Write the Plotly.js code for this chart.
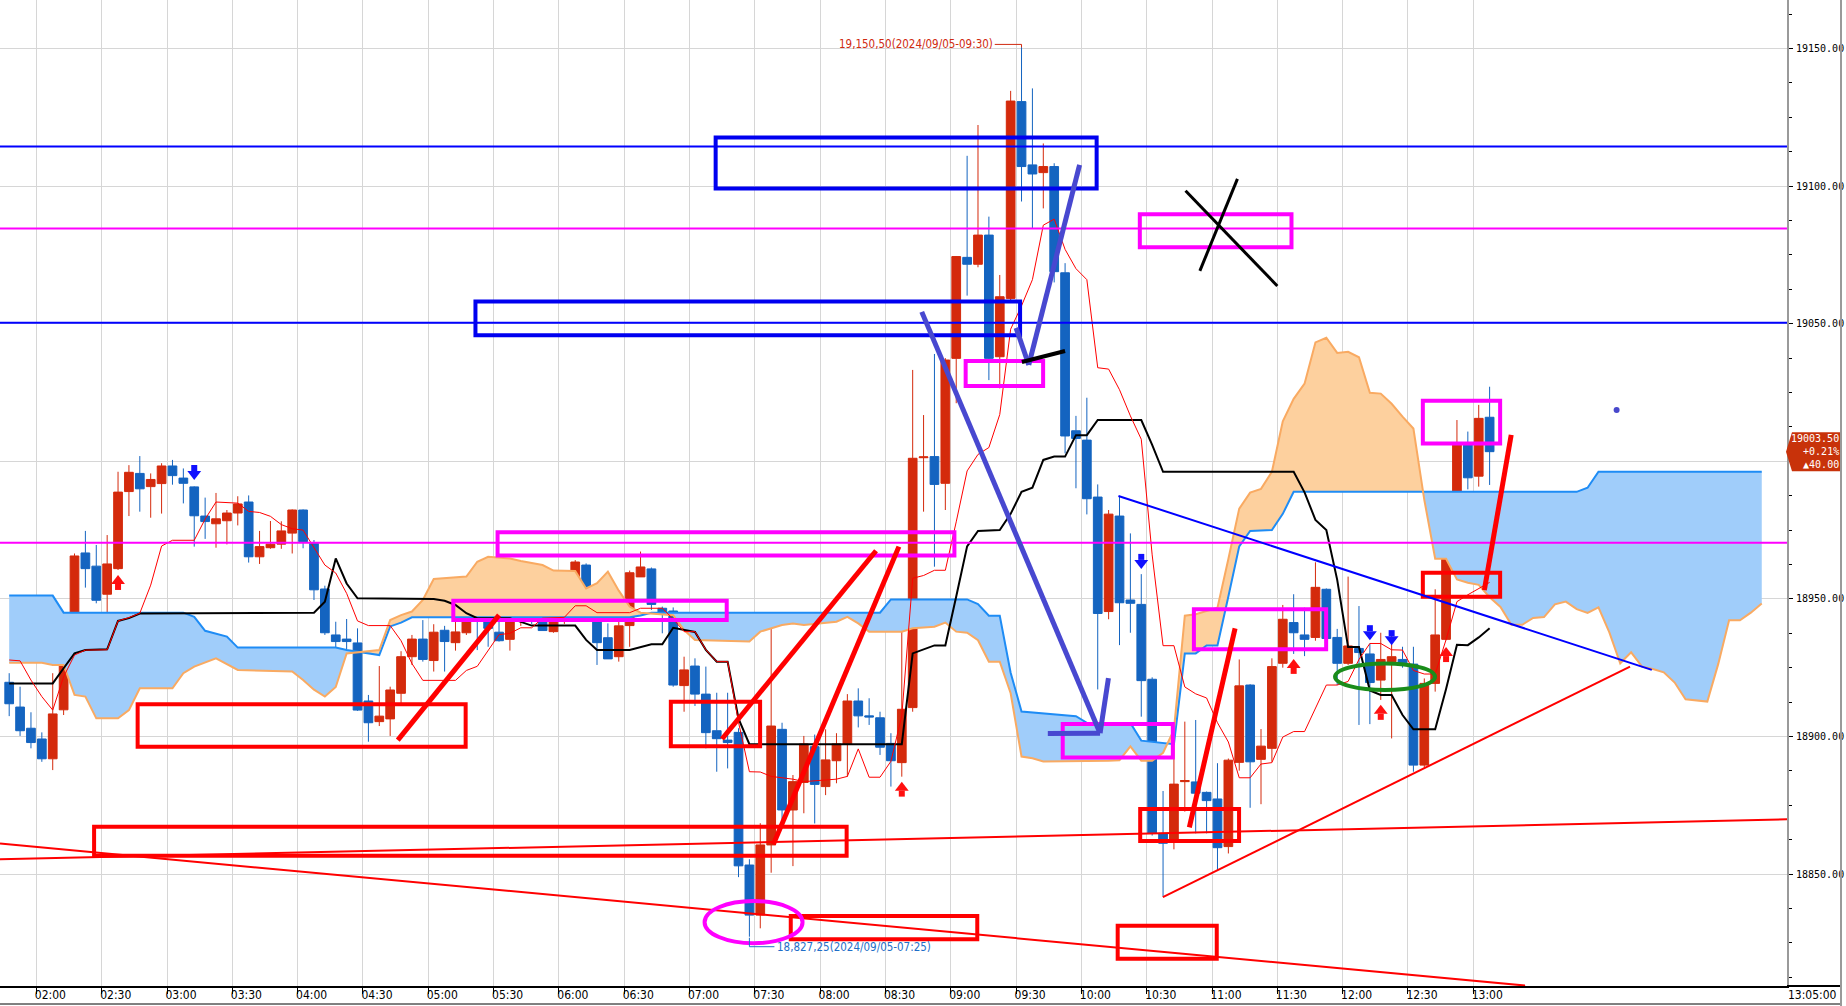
<!DOCTYPE html>
<html><head><meta charset="utf-8">
<script src="https://cdn.plot.ly/plotly-3.0.1.min.js"></script>
<style>html,body{margin:0;padding:0;background:#fff;overflow:hidden}#chart{width:1846px;height:1006px}</style>
</head><body><div id="chart"></div>
<script>
// ---------------- DATA ----------------
const times = ['01:45','01:50','01:55',
'02:00','02:05','02:10','02:15','02:20','02:25','02:30','02:35','02:40','02:45','02:50','02:55',
'03:00','03:05','03:10','03:15','03:20','03:25','03:30','03:35','03:40','03:45','03:50','03:55',
'04:00','04:05','04:10','04:15','04:20','04:25','04:30','04:35','04:40','04:45','04:50','04:55',
'05:00','05:05','05:10','05:15','05:20','05:25','05:30','05:35','05:40','05:45','05:50','05:55',
'06:00','06:05','06:10','06:15','06:20','06:25','06:30','06:35','06:40','06:45','06:50','06:55',
'07:00','07:05','07:10','07:15','07:20','07:25','07:30','07:35','07:40','07:45','07:50','07:55',
'08:00','08:05','08:10','08:15','08:20','08:25','08:30','08:35','08:40','08:45','08:50','08:55',
'09:00','09:05','09:10','09:15','09:20','09:25','09:30','09:35','09:40','09:45','09:50','09:55',
'10:00','10:05','10:10','10:15','10:20','10:25','10:30','10:35','10:40','10:45','10:50','10:55',
'11:00','11:05','11:10','11:15','11:20','11:25','11:30','11:35','11:40','11:45','11:50','11:55',
'12:00','12:05','12:10','12:15','12:20','12:25','12:30','12:35','12:40','12:45','12:50','12:55',
'13:00','13:05'];
const open = [18919.7,18910.7,18903.0,
18899.1,18891.9,18909.7,18936.9,18966.7,18961.9,18951.7,18961.0,18989.0,18995.6,18990.8,18991.9,
18998.3,18993.9,18990.7,18980.1,18977.3,18978.4,18981.2,18985.2,18965.3,18968.6,18969.9,18973.9,
18982.3,18970.2,18953.6,18936.9,18935.4,18934.0,18912.9,18905.4,18906.4,18915.7,18929.0,18935.4,
18927.6,18938.6,18934.1,18937.7,18943.5,18942.3,18937.9,18935.3,18943.3,18948.1,18948.1,18938.1,
18942.9,18946.0,18962.3,18953.2,18935.9,18929.0,18940.3,18958.0,18960.9,18946.6,18945.6,18918.5,
18925.6,18915.4,18902.1,18898.7,18901.5,18853.3,18835.1,18860.6,18902.6,18873.3,18883.3,18896.3,
18881.8,18891.2,18897.3,18912.9,18907.5,18906.8,18897.5,18890.5,18910.5,19001.3,19001.7,18992.0,
19037.4,19074.1,19071.6,19082.2,19038.0,19059.2,19130.7,19107.7,19104.9,19107.1,19068.5,19011.1,
19007.7,18987.0,18945.4,18980.1,18949.6,18948.0,18920.8,18864.8,18862.4,18883.6,18883.5,18879.7,
18877.3,18860.0,18890.6,18918.7,18891.7,18895.7,18926.6,18941.4,18936.9,18936.0,18953.5,18936.0,
18926.6,18932.0,18930.0,18920.5,18927.2,18928.0,18926.3,18889.6,18919.3,18935.3,18980.5,19005.9,
18994.6,19016.0];
const high = [18923.0,18918.1,18908.8,
18901.5,18923.0,18940.9,18966.5,18974.7,18969.6,18973.2,18996.2,18998.6,19001.9,18995.6,18999.3,
19000.5,18997.4,18990.9,18986.8,18988.5,18982.3,18987.3,18987.6,18974.7,18978.3,18978.2,18982.5,
18982.5,18971.4,18954.8,18941.7,18942.7,18939.3,18915.1,18925.6,18918.1,18931.0,18936.9,18942.3,
18940.8,18940.2,18948.0,18950.8,18944.8,18944.5,18946.6,18946.9,18955.4,18955.4,18954.2,18945.0,
18951.4,18964.1,18962.9,18954.2,18941.1,18944.8,18960.3,18967.2,18961.4,18947.2,18946.9,18929.0,
18928.4,18925.4,18915.9,18915.9,18903.0,18855.4,18868.5,18940.8,18905.0,18886.0,18900.2,18900.7,
18902.6,18901.2,18915.4,18917.5,18913.9,18909.0,18901.2,18946.6,19033.2,19016.8,19039.0,19037.5,
19074.6,19111.0,19122.2,19088.9,19067.7,19134.6,19150.5,19135.5,19115.5,19108.3,19072.0,19016.5,
19023.1,18991.6,18982.3,18987.1,18973.8,18959.0,18921.5,18880.2,18897.0,18905.4,18906.0,18880.0,
18890.3,18892.0,18928.0,18919.0,18902.7,18928.4,18947.8,18951.7,18946.8,18963.3,18953.8,18939.1,
18958.1,18947.4,18933.8,18937.7,18937.7,18932.6,18932.6,18921.1,18953.5,18983.1,19015.0,19010.8,
19020.5,19027.1];
const low = [18907.4,18900.2,18895.7,
18890.8,18887.8,18907.8,18936.0,18954.1,18948.4,18940.9,18960.5,18980.1,18981.7,18979.5,18981.0,
18991.5,18984.7,18969.0,18971.8,18968.6,18969.8,18976.7,18963.2,18962.7,18968.2,18968.2,18966.5,
18968.4,18949.6,18936.9,18931.1,18930.7,18909.3,18898.1,18903.8,18900.2,18912.0,18926.0,18927.2,
18923.6,18923.6,18931.2,18936.9,18931.4,18932.6,18934.5,18931.2,18940.2,18940.9,18938.5,18937.7,
18940.9,18944.2,18950.8,18926.0,18928.2,18927.2,18932.6,18958.0,18946.0,18937.5,18918.1,18909.0,
18911.1,18895.7,18887.2,18888.4,18848.9,18827.25,18830.3,18850.5,18868.0,18852.9,18872.1,18868.4,
18878.7,18883.0,18885.4,18903.3,18904.2,18893.3,18881.8,18885.4,18909.0,18981.7,18961.7,18982.3,
19021.1,19060.2,19070.5,19029.5,19026.5,19058.0,19094.4,19084.6,19091.9,19065.0,19002.9,18990.2,
18980.7,18917.1,18942.6,18933.2,18937.7,18907.2,18864.0,18841.8,18859.0,18872.7,18864.8,18864.8,
18851.5,18857.5,18887.6,18874.1,18875.4,18890.8,18925.0,18930.0,18929.2,18934.8,18934.8,18918.7,
18926.0,18904.2,18904.5,18913.3,18899.3,18925.0,18887.2,18888.8,18916.3,18935.0,18977.2,18989.8,
18990.8,18991.4];
const close = [18911.9,18902.1,18897.8,
18891.9,18908.2,18936.9,18965.6,18961.0,18949.5,18962.7,18988.8,18996.0,18990.0,18993.4,18998.3,
18994.8,18992.0,18980.2,18978.1,18979.1,18981.2,18984.5,18965.3,18969.0,18969.9,18974.7,18982.3,
18970.8,18953.3,18937.7,18934.5,18934.5,18909.6,18905.0,18907.4,18916.9,18929.0,18935.4,18928.0,
18937.9,18934.5,18938.0,18944.2,18942.3,18939.3,18934.8,18942.1,18948.0,18947.7,18938.5,18942.1,
18947.7,18963.4,18953.2,18934.1,18928.2,18940.2,18959.5,18961.6,18948.0,18944.8,18918.7,18924.2,
18915.4,18901.4,18899.2,18897.8,18853.0,18835.1,18860.6,18903.8,18873.3,18883.6,18897.3,18882.6,
18891.5,18897.3,18912.9,18907.5,18907.1,18896.1,18891.2,18909.9,19001.1,19001.6,18991.6,19036.8,
19074.4,19071.6,19082.2,19037.4,19059.8,19130.9,19107.1,19104.4,19107.1,19068.9,19009.2,19008.3,
18986.4,18944.7,18980.8,18948.6,18948.4,18920.3,18864.8,18861.2,18882.7,18884.0,18879.4,18876.7,
18859.6,18891.4,18918.4,18890.8,18896.5,18925.4,18942.6,18937.7,18935.3,18954.2,18935.6,18926.6,
18932.9,18930.5,18919.6,18928.0,18929.0,18926.8,18889.6,18919.3,18936.9,18981.9,19005.9,18994.0,
19015.6,19003.5];

// Ichimoku lines (vertices)
const tenkanTimes = ['01:45','01:50','01:55','02:00','02:05','02:10','02:15','02:20','02:30','02:35','02:40','02:45','02:50','02:55','03:00','03:10','03:15','03:20','03:30','03:35','03:40','03:45','03:50','03:55','04:00','04:05','04:10','04:15','04:20','04:25','04:30','04:40','04:45','04:50','04:55','05:10','05:15','05:20','05:25','05:30','05:35','05:40','05:45','05:50','06:00','06:05','06:10','06:15','06:30','06:35','06:45','06:50','06:55','07:00','07:05','07:10','07:15','07:20','07:25','07:30','07:35','07:45','07:50','08:05','08:10','08:15','08:20','08:25','08:30','08:35','08:40','08:45','08:50','08:55','09:00','09:05','09:10','09:15','09:20','09:25','09:30','09:35','09:40','09:45','09:50','09:55','10:00','10:05','10:10','10:15','10:20','10:25','10:30','10:35','10:40','10:45','10:50','10:55','11:00','11:05','11:10','11:15','11:20','11:25','11:30','11:35','11:40','11:45','11:50','11:55','12:00','12:05','12:10','12:15','12:20','12:25','12:30','12:35','12:40','12:45','12:50','12:55','13:00','13:05'];
const tenkanValues = [18927.8,18927.5,18920.5,18914.5,18909.6,18921.7,18929.6,18931.4,18931.5,18942.0,18943.2,18944.8,18955.0,18969.2,18971.3,18971.3,18979.0,18985.2,18984.8,18981.8,18981.4,18980.0,18977.0,18975.5,18975.0,18968.6,18962.3,18959.4,18952.0,18942.0,18940.3,18940.3,18934.8,18926.5,18920.4,18920.4,18924.0,18925.5,18931.4,18937.0,18937.5,18939.5,18939.5,18943.0,18943.3,18947.5,18947.5,18945.0,18945.0,18946.6,18946.6,18942.7,18938.1,18938.1,18931.5,18927.2,18927.2,18905.2,18887.2,18887.1,18885.5,18884.5,18883.6,18884.5,18885.5,18895.5,18885.2,18885.2,18891.0,18907.5,18957.5,18958.5,18960.4,18960.4,18978.0,18996.5,19002.5,19005.0,19017.0,19048.0,19056.5,19066.0,19085.8,19088.0,19077.0,19070.0,19066.0,19034.0,19033.5,19026.0,19016.5,19008.0,18966.0,18933.0,18933.0,18918.0,18915.5,18914.0,18905.0,18898.0,18885.0,18885.0,18890.0,18890.5,18899.8,18901.8,18901.8,18910.5,18918.7,18918.7,18920.0,18928.0,18933.8,18933.8,18931.5,18931.4,18924.0,18922.7,18922.7,18935.2,18949.0,18951.5,18953.9,18956.0];

const kijunTimes = ['01:45','02:05','02:10','02:15','02:20','02:30','02:35','02:40','02:45','04:05','04:10','04:15','04:20','04:25','05:00','05:05','05:10','05:15','05:20','05:35','05:45','06:05','06:10','06:15','06:30','06:40','06:45','06:50','07:00','07:05','07:10','07:15','07:20','07:25','08:35','08:40','08:50','08:55','09:00','09:05','09:10','09:20','09:25','09:30','09:35','09:40','09:45','09:50','09:55','10:00','10:05','10:25','10:30','10:35','11:35','11:40','11:45','11:50','11:55','12:00','12:05','12:10','12:15','12:20','12:25','12:30','12:40','12:45','12:50','12:55','13:00','13:05'];
const kijunValues = [18919.3,18919.3,18924.8,18930.2,18931.4,18931.7,18942.0,18943.0,18944.7,18945.0,18949.0,18964.7,18955.6,18950.2,18950.0,18949.3,18947.8,18944.8,18943.0,18943.0,18940.3,18940.3,18935.1,18931.4,18931.4,18933.5,18933.5,18939.5,18938.0,18931.5,18927.2,18927.2,18906.5,18897.2,18897.2,18930.2,18933.1,18933.1,18950.9,18969.1,18974.7,18975.0,18980.9,18988.9,18990.4,19000.5,19001.7,19001.7,19009.5,19009.5,19015.0,19015.0,19006.0,18996.2,18996.2,18988.7,18978.7,18975.0,18956.9,18932.5,18932.5,18916.7,18915.1,18915.1,18907.8,18902.6,18902.6,18917.3,18933.3,18933.2,18936.0,18939.3];

// Senkou span A (orange) and span B (blue), displayed 25 bars ahead
const spanATimes = ['01:45','02:00','02:05','02:10','02:15','02:20','02:25','02:35','02:40','02:45','03:00','03:05','03:10','03:20','03:30','03:55','04:00','04:05','04:10','04:15','04:20','04:35','04:40','04:45','04:50','04:55','05:00','05:15','05:20','05:25','05:35','05:40','05:50','05:55','06:05','06:10','06:15','06:20','06:25','06:30','06:35','06:50','06:55','07:00','07:25','07:30','07:40','07:45','07:50','08:05','08:10','08:15','08:20','08:35','08:40','08:50','08:55','09:00','09:05','09:10','09:15','09:20','09:25','09:30','09:35','09:40','10:10','10:15','10:20','10:25','10:30','10:35','10:40','10:45','10:50','11:00','11:05','11:10','11:15','11:20','11:25','11:30','11:35','11:40','11:45','11:50','11:55','12:00','12:05','12:10','12:15','12:20','12:25','12:30','12:35','12:40','12:45','12:50','12:55','13:00','13:05','13:10','13:15','13:20','13:25','13:30','13:35','13:40','13:45','13:50','13:55','14:00','14:05','14:10','14:15','14:20','14:25','14:30','14:35','14:45','14:50','14:55','15:00','15:05','15:10'];
const spanAValues = [18926.8,18926.8,18926.0,18926.0,18915.1,18914.5,18906.6,18906.6,18909.6,18917.5,18917.5,18923.0,18925.4,18928.4,18924.2,18923.6,18920.5,18917.0,18914.5,18918.0,18930.2,18931.4,18942.3,18944.1,18945.4,18949.6,18957.2,18958.1,18963.5,18965.3,18964.7,18963.8,18962.3,18960.3,18960.1,18953.8,18955.7,18959.9,18953.0,18947.2,18945.0,18944.1,18938.7,18935.1,18934.5,18938.1,18940.5,18941.1,18940.5,18941.7,18943.5,18941.1,18938.1,18938.1,18939.3,18939.9,18941.4,18938.1,18937.7,18935.0,18927.2,18927.2,18915.7,18892.7,18892.1,18890.9,18891.2,18891.4,18896.4,18891.2,18891.2,18894.1,18902.4,18943.9,18944.4,18946.8,18964.5,18982.8,18988.6,18990.0,18996.2,19014.5,19022.7,19028.2,19043.2,19044.9,19039.4,19039.8,19037.8,19024.9,19024.6,19020.9,19016.2,19011.9,18986.0,18964.6,18964.6,18957.1,18955.9,18955.1,18950.6,18947.1,18940.6,18940.6,18943.1,18943.4,18948.0,18949.0,18946.3,18944.9,18946.9,18937.8,18926.6,18930.6,18925.4,18924.5,18923.3,18919.6,18913.5,18912.7,18926.3,18942.2,18942.2,18945.0,18948.3];
const spanBTimes = ['01:45','02:05','02:10','03:05','03:10','03:15','03:25','03:30','04:15','04:20','04:35','04:40','04:45','04:50','06:30','06:35','06:40','08:25','08:30','09:05','09:10','09:15','09:20','09:25','09:30','09:55','10:00','10:20','10:25','10:40','10:45','10:50','10:55','11:00','11:05','11:10','11:15','11:25','11:30','11:35','13:45','13:50','13:55','15:10'];
const spanBValues = [18951.2,18951.2,18945.0,18945.0,18943.5,18938.4,18936.3,18932.3,18932.3,18931.4,18929.6,18940.0,18941.4,18943.3,18943.3,18944.0,18945.0,18945.0,18949.8,18949.8,18948.1,18943.9,18943.9,18923.2,18909.1,18907.4,18905.0,18904.9,18898.5,18897.2,18930.2,18930.2,18933.1,18933.1,18950.9,18969.1,18974.7,18975.0,18980.9,18988.9,18988.9,18990.4,18996.2,18996.2];

// Signal arrows (bar time, tip price)
const buyArrowTimes = ['02:35','08:35','11:35','12:15','12:45'];
const buyArrowPrices = [18958.7,18883.6,18928.2,18911.5,18932.5];
const sellArrowTimes = ['03:10','10:25','12:10','12:20'];
const sellArrowPrices = [18993.2,18960.9,18935.0,18933.2];

const xTickLabels = ['02:00','02:30','03:00','03:30','04:00','04:30','05:00','05:30','06:00','06:30','07:00','07:30','08:00','08:30','09:00','09:30','10:00','10:30','11:00','11:30','12:00','12:30','13:00'];
const priceTicks = [18850,18900,18950,19000,19050,19100,19150];
const hiddenPriceLabel = 19000; // covered by the last-price tag

const lastPrice = 19003.50, changePct = '+0.21%', changeAbs = '▲40.00', lastTimeLabel = '13:05:00';
const highLabel = '19,150,50(2024/09/05-09:30)', highTime = '09:30', highPrice = 19150.5;
const lowLabel = '18,827,25(2024/09/05-07:25)', lowTime = '07:25', lowPrice = 18827.25;

// ---- user drawings (time, price) ----
const levelBlue = [19114.4, 19050.3];
const levelMagenta = [19084.6, 18970.4];
const blueBoxes = [['07:12:00','10:07:00',19117.7,19099.1],['05:21:40','09:31:50',19058.1,19045.8]];
const magentaBoxes = [['10:26:50','11:36:30',19089.8,19077.8],['09:06:50','09:42:25',19036.4,19027.4],['05:31:50','09:01:40',18974.2,18965.8],['05:11:30','07:17:05',18949.3,18942.3],['10:51:40','11:52:25',18946.2,18931.7],['12:36:50','13:12:20',19022.0,19006.5],['09:51:25','10:42:00',18904.5,18892.4]];
const redBoxes = [['02:46:30','05:17:10',18911.7,18896.3],['06:51:25','07:32:25',18912.6,18896.5],['02:26:30','08:12:10',18867.2,18856.7],['10:27:00','11:12:25',18873.7,18862.0],['12:36:50','13:12:20',18959.5,18950.8],['07:46:30','09:12:10',18834.8,18826.3],['10:16:40','11:02:10',18831.2,18819.2]];
const redThick = [['04:46:00',18898.7,'05:32:30',18944.1],['07:14:55',18899.1,'08:25:40',18967.5],['07:38:30',18860.8,'08:36:10',18969.0],['10:49:35',18867.0,'11:10:35',18939.3],['13:05:05',18953.2,'13:17:25',19009.6]];
const redThin = [['10:37:25',18841.6,'14:12:00',18925.4],['01:43:17',18855.4,'15:24:06',18869.9],['01:43:17',18861.1,'13:23:50',18809.5]];
const blueThin = [['10:17:00',18987.4,'14:22:00',18924.2]];
const purple = [['08:46:40',19054.3,'10:08:35',18901.2],['10:08:35',18901.2,'10:12:25',18921.2],['09:44:35',18901.1,'10:08:35',18901.2],['09:30:00',19048.5,'09:35:50',19035.0],['09:35:50',19035.0,'09:59:10',19107.7]];
const blackLines = [['09:32:40',19036.1,'09:52:30',19040.1],['10:47:50',19098.3,'11:30:00',19063.7],['11:11:40',19102.6,'10:54:25',19069.2]];
const magentaEllipse = ['07:06:55','07:51:55',18840.2,18824.9];
const greenEllipse = ['11:56:30','12:42:25',18926.5,18916.9];
const dotPoint = ['14:05:50',19018.6];

// ---------------- HELPERS ----------------
const RED='#d42a0c', BLUE='#1464c0';
const X0=103.28, X1=924.1, Y0=18809.34, Y1=19167.62;
const PLOT_W=1787, PLOT_H=986;
const PPX=(Y1-Y0)/PLOT_H;
const NARROW="'Liberation Sans Narrow','DejaVu Sans Condensed','Arial Narrow','Liberation Sans',sans-serif";
const MONO="'DejaVu Sans Mono','Liberation Mono',monospace";
function pad2(n){return String(n).padStart(2,'0');}
function toMin(s){const p=s.split(':').map(Number);return p[0]*60+p[1]+(p[2]||0)/60;}
function md(m){const ms=Math.round(m*60000);const h=Math.floor(ms/3600000);const mi=Math.floor((ms%3600000)/60000);const sec=(ms%60000)/1000;return '2024-09-05 '+pad2(h)+':'+pad2(mi)+':'+sec.toFixed(3).padStart(6,'0');}
const barX=t=>md(toMin(t)+2.5);
const tX=t=>md(toMin(t));

const traces=[];
// cloud fills
(function(){
  const aT=spanATimes.map(toMin), bT=spanBTimes.map(toMin);
  function lerp(ts,vs,t){ if(t<=ts[0])return vs[0]; for(let i=1;i<ts.length;i++){ if(t<=ts[i]){const f=(t-ts[i-1])/(ts[i]-ts[i-1]);return vs[i-1]+f*(vs[i]-vs[i-1]);} } return vs[vs.length-1]; }
  const U=[...new Set(aT.concat(bT))].sort((p,q)=>p-q);
  const pts=[];
  U.forEach(t=>{const a=lerp(aT,spanAValues,t), b=lerp(bT,spanBValues,t);
    if(pts.length){const p=pts[pts.length-1];const d0=p.b-p.a,d1=b-a; if(d0*d1<0){const f=d0/(d0-d1);const v=p.a+f*(a-p.a);pts.push({t:p.t+f*(t-p.t),a:v,b:v});}}
    pts.push({t,a,b});});
  const runs=[];let run=null;
  for(let i=1;i<pts.length;i++){const p=pts[i-1],q=pts[i];const s=((p.b-p.a)+(q.b-q.a))>=0?1:-1;
    if(!run||run.s!==s){run={s,pts:[p]};runs.push(run);} run.pts.push(q);}
  runs.forEach(r=>{const xs=r.pts.map(p=>md(p.t+2.5));const up=r.pts.map(p=>Math.max(p.a,p.b));const lo=r.pts.map(p=>Math.min(p.a,p.b));
    traces.push({type:'scatter',mode:'lines',x:xs.concat(xs.slice().reverse()),y:up.concat(lo.slice().reverse()),fill:'toself',fillcolor:r.s>0?'#a0cdfa':'#fdd09e',line:{width:0,color:'rgba(0,0,0,0)'},hoverinfo:'skip',showlegend:false});});
})();
traces.push({type:'scatter',mode:'lines',x:spanBTimes.map(barX),y:spanBValues,line:{color:'#1e8cf5',width:2},hoverinfo:'skip',showlegend:false});
traces.push({type:'scatter',mode:'lines',x:spanATimes.map(barX),y:spanAValues,line:{color:'#f9aa62',width:2},hoverinfo:'skip',showlegend:false});
traces.push({type:'scatter',mode:'lines',x:kijunTimes.map(barX),y:kijunValues,line:{color:'#000',width:2},hoverinfo:'skip',showlegend:false});
traces.push({type:'scatter',mode:'lines',x:tenkanTimes.map(barX),y:tenkanValues,line:{color:'#ff0000',width:1},hoverinfo:'skip',showlegend:false});
traces.push({type:'candlestick',x:times.map(barX),open:open,high:high,low:low,close:close,
  increasing:{line:{color:RED,width:1},fillcolor:RED},decreasing:{line:{color:BLUE,width:1},fillcolor:BLUE},
  whiskerwidth:0,hoverinfo:'skip',showlegend:false});
// arrows
traces.push({type:'scatter',mode:'markers',x:buyArrowTimes.map(barX),y:buyArrowPrices.map(p=>p-6*PPX),marker:{symbol:'triangle-up',size:12,color:'#ff1010',line:{width:0}},hoverinfo:'skip',showlegend:false});
traces.push({type:'scatter',mode:'markers',x:buyArrowTimes.map(barX),y:buyArrowPrices.map(p=>p-12*PPX),marker:{symbol:'square',size:6,color:'#ff1010',line:{width:0}},hoverinfo:'skip',showlegend:false});
traces.push({type:'scatter',mode:'markers',x:sellArrowTimes.map(barX),y:sellArrowPrices.map(p=>p+6*PPX),marker:{symbol:'triangle-down',size:12,color:'#1010ff',line:{width:0}},hoverinfo:'skip',showlegend:false});
traces.push({type:'scatter',mode:'markers',x:sellArrowTimes.map(barX),y:sellArrowPrices.map(p=>p+12*PPX),marker:{symbol:'square',size:6,color:'#1010ff',line:{width:0}},hoverinfo:'skip',showlegend:false});
traces.push({type:'scatter',mode:'markers',x:[tX(dotPoint[0])],y:[dotPoint[1]],marker:{symbol:'circle',size:6,color:'#4848cc'},hoverinfo:'skip',showlegend:false});

// ---------------- SHAPES ----------------
const shapes=[];
const ln=(t1,p1,t2,p2,color,width)=>shapes.push({type:'line',xref:'x',yref:'y',x0:tX(t1),y0:p1,x1:tX(t2),y1:p2,line:{color,width},layer:'above'});
levelBlue.forEach(p=>shapes.push({type:'line',xref:'paper',yref:'y',x0:0,x1:1,y0:p,y1:p,line:{color:'#0000ff',width:2},layer:'above'}));
levelMagenta.forEach(p=>shapes.push({type:'line',xref:'paper',yref:'y',x0:0,x1:1,y0:p,y1:p,line:{color:'#ff00ff',width:2},layer:'above'}));
const box=(b,color)=>shapes.push({type:'rect',xref:'x',yref:'y',x0:tX(b[0]),x1:tX(b[1]),y0:b[2],y1:b[3],line:{color,width:4},fillcolor:'rgba(0,0,0,0)',layer:'above'});
blueBoxes.forEach(b=>box(b,'#0000f0'));
magentaBoxes.forEach(b=>box(b,'#ff00ff'));
redBoxes.forEach(b=>box(b,'#ff0000'));
redThin.forEach(l=>ln(l[0],l[1],l[2],l[3],'#ff0000',2));
blueThin.forEach(l=>ln(l[0],l[1],l[2],l[3],'#0000ff',2));
redThick.forEach(l=>ln(l[0],l[1],l[2],l[3],'#ff0000',5));
purple.forEach(l=>ln(l[0],l[1],l[2],l[3],'#4848d0',5));
blackLines.forEach((l,i)=>ln(l[0],l[1],l[2],l[3],'#000',i===0?4:3));
shapes.push({type:'circle',xref:'x',yref:'y',x0:tX(magentaEllipse[0]),x1:tX(magentaEllipse[1]),y0:magentaEllipse[2],y1:magentaEllipse[3],line:{color:'#ff00ff',width:4},layer:'above'});
shapes.push({type:'circle',xref:'x',yref:'y',x0:tX(greenEllipse[0]),x1:tX(greenEllipse[1]),y0:greenEllipse[2],y1:greenEllipse[3],line:{color:'#1a8c1a',width:4},layer:'above'});
// high / low label connectors
const hiY=highPrice+2.7*PPX;
shapes.push({type:'line',xref:'x',yref:'y',x0:md(toMin(highTime)-9.8),x1:barX(highTime),y0:hiY,y1:hiY,line:{color:'#d02a10',width:1},layer:'above'});
shapes.push({type:'line',xref:'x',yref:'y',x0:barX(highTime),x1:barX(highTime),y0:hiY,y1:hiY-3*PPX,line:{color:'#d02a10',width:1},layer:'above'});
const loY=lowPrice-10*PPX;
shapes.push({type:'line',xref:'x',yref:'y',x0:barX(lowTime),x1:barX(lowTime),y0:lowPrice-1*PPX,y1:loY,line:{color:'#1e6ec8',width:1},layer:'above'});
shapes.push({type:'line',xref:'x',yref:'y',x0:barX(lowTime),x1:md(toMin(lowTime)+14),y0:loY,y1:loY,line:{color:'#1e6ec8',width:1},layer:'above'});
// frame pieces outside plot
const px=v=>v/PLOT_W, py=v=>(PLOT_H-v)/PLOT_H;
shapes.push({type:'line',xref:'paper',yref:'paper',x0:1,x1:px(1841),y0:0,y1:0,line:{color:'#000',width:2}});
shapes.push({type:'line',xref:'paper',yref:'paper',x0:0,x1:px(1841),y0:py(1004),y1:py(1004),line:{color:'#000',width:1}});
shapes.push({type:'line',xref:'paper',yref:'paper',x0:px(1841),x1:px(1841),y0:py(1006),y1:1,line:{color:'#9a9a9a',width:2}});
// price tag
const yc=(lastPrice-Y0)/(Y1-Y0), hh=19.5/PLOT_H;
shapes.push({type:'path',xref:'paper',yref:'paper',path:`M ${px(1786)},${yc} L ${px(1792)},${yc+hh} L ${px(1840)},${yc+hh} L ${px(1840)},${yc-hh} L ${px(1792)},${yc-hh} Z`,fillcolor:'#c8320a',line:{width:0},layer:'above'});

const annotations=[
 {xref:'x',yref:'y',x:md(toMin(highTime)-9.9),y:hiY,text:highLabel,showarrow:false,xanchor:'right',yanchor:'middle',font:{family:NARROW,size:11.5,color:'#d02a10'}},
 {xref:'x',yref:'y',x:md(toMin(lowTime)+14.2),y:loY,text:lowLabel,showarrow:false,xanchor:'left',yanchor:'middle',font:{family:NARROW,size:11.5,color:'#1e6ec8'}},
 {xref:'paper',yref:'paper',x:px(1840),y:yc,text:lastPrice.toFixed(2)+'<br>'+changePct+'<br>'+changeAbs,showarrow:false,xanchor:'right',yanchor:'middle',align:'right',borderpad:0,font:{family:MONO,size:10,color:'#fff'}},
 {xref:'paper',yref:'paper',x:px(1839),y:py(995),text:lastTimeLabel,showarrow:false,xanchor:'right',yanchor:'middle',font:{family:NARROW,size:12,color:'#000'}}
];

const layout={
  width:1846,height:1006,margin:{l:0,r:59,t:0,b:20,pad:0},
  paper_bgcolor:'#fff',plot_bgcolor:'#fff',showlegend:false,
  boxgap:0.2,boxgroupgap:0,
  xaxis:{type:'date',range:[md(X0),md(X1)],tickmode:'array',tickvals:xTickLabels.map(tX),ticktext:xTickLabels,
    showgrid:true,gridcolor:'#d6d6d6',gridwidth:1,ticks:'outside',ticklen:6,tickcolor:'#000',tickwidth:1,
    showline:true,linecolor:'#000',linewidth:2,zeroline:false,ticklabelshift:14,ticklabelstandoff:-9,
    tickfont:{family:NARROW,size:12,color:'#000'},rangeslider:{visible:false},fixedrange:true},
  yaxis:{side:'right',range:[Y0,Y1],tickmode:'array',tickvals:priceTicks,ticktext:priceTicks.map(v=>v===hiddenPriceLabel?'':v.toFixed(2)),
    showgrid:true,gridcolor:'#d6d6d6',gridwidth:1,ticks:'outside',ticklen:4,tickcolor:'#000',tickwidth:1,
    minor:{dtick:12.5,tick0:18800,ticks:'outside',ticklen:3,tickcolor:'#000',showgrid:false},
    showline:true,linecolor:'#9a9a9a',linewidth:2,zeroline:false,ticklabelstandoff:1,
    tickfont:{family:MONO,size:10,color:'#000'},fixedrange:true},
  shapes,annotations
};
Plotly.newPlot('chart',traces,layout,{staticPlot:true,displayModeBar:false});
</script></body></html>
